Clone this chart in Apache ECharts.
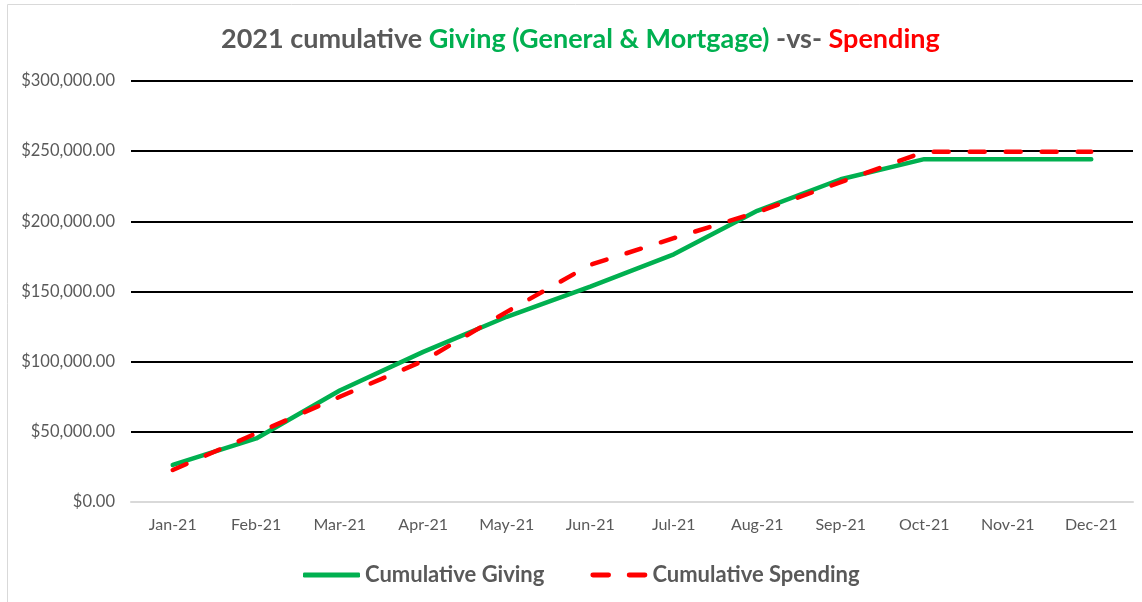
<!DOCTYPE html>
<html>
<head>
<meta charset="utf-8">
<script src="https://cdn.jsdelivr.net/npm/echarts@6/dist/echarts.min.js"></script>
<style>
  html, body { margin: 0; padding: 0; background: #fff; }
  #main { width: 1142px; height: 602px; }
</style>
</head>
<body>
<div id="main"></div>
<script>
// month labels on the x axis
const months = ['Jan-21', 'Feb-21', 'Mar-21', 'Apr-21', 'May-21', 'Jun-21',
  'Jul-21', 'Aug-21', 'Sep-21', 'Oct-21', 'Nov-21', 'Dec-21'];

// cumulative totals
const givingValues = [26400, 45300, 79500, 107000, 132000, 153500,
  176500, 207500, 230000, 244300, 244300, 244300];
const spendingValues = [22800, 48900, 75000, 100500, 135500, 169000,
  188000, 206500, 228000, 249500, 249500, 249500];

// y axis range
const yMin = 0;
const yMax = 300000;
const yStep = 50000;

const FONT = 'Lato, "Noto Sans", sans-serif';
const GRAY = '#595959';
const GREEN = '#00B050';
const RED = '#FF0000';

// formats 250000 -> $250,000.00
function money(v) {
  return '$' + v.toLocaleString('en-US', { minimumFractionDigits: 2, maximumFractionDigits: 2 });
}

const chart = echarts.init(document.getElementById('main'));

chart.setOption({
  animation: false,
  textStyle: { fontFamily: FONT },
  graphic: [{
    type: 'rect',
    shape: { x: 7.5, y: 4.5, width: 1140, height: 600 },
    style: { fill: 'none', stroke: '#d9d9d9', lineWidth: 1 },
    silent: true
  }],
  title: {
    text: '{g|2021 cumulative }{gr|Giving (General & Mortgage)}{g| -vs- }{r|Spending}',
    left: 216,
    top: 21,
    textStyle: {
      rich: {
        g: { fontFamily: FONT, fontSize: 27, fontWeight: 'bold', color: GRAY },
        gr: { fontFamily: FONT, fontSize: 27, fontWeight: 'bold', color: GREEN },
        r: { fontFamily: FONT, fontSize: 27, fontWeight: 'bold', color: RED }
      }
    }
  },
  legend: {
    left: 298,
    top: 559,
    itemWidth: 57,
    itemHeight: 5,
    itemGap: 46,
    formatter: '{b|{name}}',
    textStyle: {
      rich: {
        b: { fontFamily: FONT, fontSize: 22, fontWeight: 'bold', color: GRAY }
      }
    },
    data: [
      { name: 'Cumulative Giving', icon: 'roundRect', itemStyle: { color: GREEN } },
      // two short dashes, like the dashed line
      { name: 'Cumulative Spending', icon: 'path://M2,0h16a2,2 0 0 1 0,5h-16a2,2 0 0 1 0,-5z M39,0h16a2,2 0 0 1 0,5h-16a2,2 0 0 1 0,-5z', itemStyle: { color: RED } }
    ]
  },
  grid: { left: 131, right: 9, top: 81, bottom: 100 },
  xAxis: {
    type: 'category',
    data: months,
    boundaryGap: true,
    axisLine: { lineStyle: { color: '#d9d9d9', width: 2 } },
    axisTick: { show: false },
    axisLabel: { color: GRAY, fontSize: 16, margin: 15 }
  },
  yAxis: {
    type: 'value',
    min: yMin,
    max: yMax,
    interval: yStep,
    axisLine: { show: false },
    axisTick: { show: false },
    axisLabel: { color: GRAY, fontSize: 16.5, margin: 16, formatter: money },
    splitLine: { lineStyle: { color: '#000', width: 2 } }
  },
  series: [
    {
      name: 'Cumulative Giving',
      type: 'line',
      data: givingValues,
      symbol: 'none',
      itemStyle: { color: GREEN },
      lineStyle: { color: GREEN, width: 4.5, cap: 'round', join: 'round' }
    },
    {
      name: 'Cumulative Spending',
      type: 'line',
      data: spendingValues,
      symbol: 'none',
      itemStyle: { color: RED },
      lineStyle: { color: RED, width: 4.5, type: [15, 21], cap: 'round', join: 'round' }
    }
  ]
});
</script>
</body>
</html>
